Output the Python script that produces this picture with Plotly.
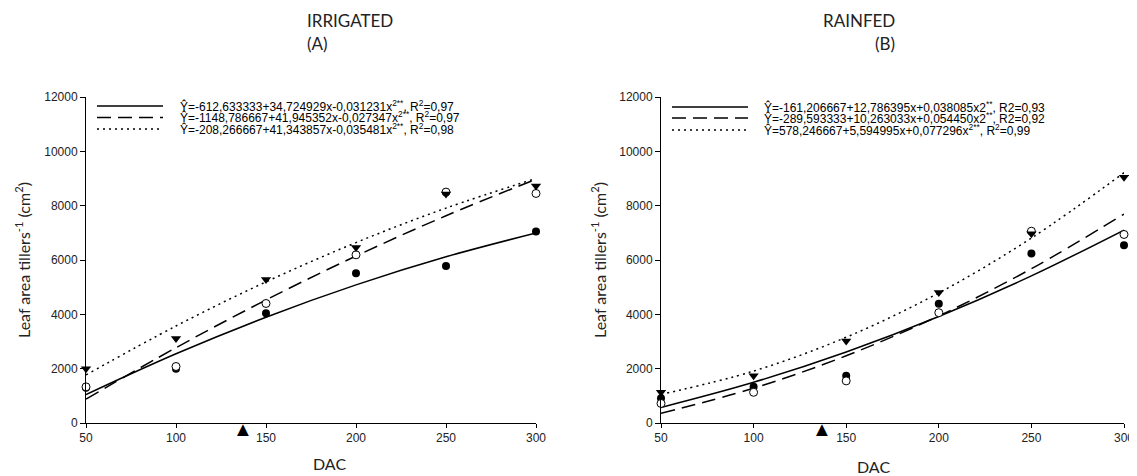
import plotly.graph_objects as go

# ---------------- data ----------------
dac = [50, 100, 150, 200, 250, 300]

# Irrigated (A) observed points
irr_filled = [1300, 2000, 4040, 5510, 5780, 7050]
irr_open = [1330, 2080, 4400, 6190, 8500, 8450]
irr_tri = [2000, 3110, 5280, 6460, 8430, 8720]
# Irrigated fitted curves
irr_fit_solid = [1045, 2547, 3893, 5083, 6117, 6994]
irr_fit_dash = [880, 2772, 4528, 6146, 7628, 8974]
irr_fit_dot = [1770, 3571, 5195, 6641, 7910, 9001]

# Rainfed (B) observed points
rf_filled = [910, 1330, 1740, 4390, 6240, 6540]
rf_open = [720, 1130, 1550, 4060, 7060, 6940]
rf_tri = [1130, 1740, 3020, 4800, 6970, 9050]
# Rainfed fitted curves
rf_fit_solid = [573, 1498, 2614, 3919, 5416, 7102]
rf_fit_dash = [360, 1281, 2475, 3941, 5679, 7690]
rf_fit_dot = [1051, 1911, 3157, 4789, 6808, 9213]

event_dac = [137]

legend_a = [
    "Ŷ=-612,633333+34,724929x-0,031231x<sup>2**</sup>, R<sup>2</sup>=0,97",
    "Ŷ=-1148,786667+41,945352x-0,027347x<sup>2**</sup>, R<sup>2</sup>=0,97",
    "Ŷ=-208,266667+41,343857x-0,035481x<sup>2**</sup>, R<sup>2</sup>=0,98",
]
legend_b = [
    "Ŷ=-161,206667+12,786395x+0,038085x2<sup>**</sup>, R2=0,93",
    "Ŷ=-289,593333+10,263033x+0,054450x2<sup>**</sup>, R2=0,92",
    "Ŷ=578,246667+5,594995x+0,077296x<sup>2**</sup>, R<sup>2</sup>=0,99",
]
titles = [("IRRIGATED", "(A)"), ("RAINFED", "(B)")]
y_title = "Leaf area tillers<sup>-1</sup> (cm<sup>2</sup>)"
x_title = "DAC"
y_ticks = [0, 2000, 4000, 6000, 8000, 10000, 12000]
x_ticks = [50, 100, 150, 200, 250, 300]

# ---------------- figure ----------------
# The page body has an 8px margin: shift everything by it so the window matches.
OFF = 8
W, H = 1137, 476


def px(xp):
    return (xp - OFF) / W


def py(yp):
    return 1 - (yp - OFF) / H


fig = go.Figure()

dashes = ["solid", "14px,7px", "2px,4px"]


def add_panel(xa, ya, fits, filled, opened, tri):
    for fit, d in zip(fits, dashes):
        fig.add_trace(go.Scatter(
            x=dac, y=fit, mode="lines", xaxis=xa, yaxis=ya,
            line=dict(color="black", width=1.5, dash=d, shape="spline"),
            showlegend=False, cliponaxis=False, hoverinfo="skip"))
    fig.add_trace(go.Scatter(
        x=dac, y=filled, mode="markers", xaxis=xa, yaxis=ya,
        marker=dict(symbol="circle", size=8, color="black"),
        showlegend=False, cliponaxis=False))
    fig.add_trace(go.Scatter(
        x=dac, y=opened, mode="markers", xaxis=xa, yaxis=ya,
        marker=dict(symbol="circle", size=8, color="white",
                    line=dict(color="black", width=1)),
        showlegend=False, cliponaxis=False))
    fig.add_trace(go.Scatter(
        x=dac, y=tri, mode="markers", xaxis=xa, yaxis=ya,
        marker=dict(symbol="triangle-down", size=9, color="black"),
        showlegend=False, cliponaxis=False))


add_panel("x", "y", [irr_fit_solid, irr_fit_dash, irr_fit_dot],
          irr_filled, irr_open, irr_tri)
add_panel("x2", "y2", [rf_fit_solid, rf_fit_dash, rf_fit_dot],
          rf_filled, rf_open, rf_tri)

tick_font = dict(family="Liberation Sans, Arial", size=12, color="#222")
ydom = [py(423), py(97)]
common_x = dict(range=[50, 300], tickvals=x_ticks, showline=True, linecolor="black",
                linewidth=1, ticks="outside", ticklen=4, tickcolor="black",
                showgrid=False, zeroline=False, tickfont=tick_font, automargin=False)
common_y = dict(range=[0, 12000], tickvals=y_ticks, tickformat="d", showline=True,
                linecolor="black", linewidth=1, ticks="outside", ticklen=5,
                tickcolor="black", showgrid=False, zeroline=False, tickfont=tick_font,
                domain=ydom, automargin=False)

fig.update_layout(
    template="none",
    width=W, height=H, margin=dict(l=0, r=0, t=0, b=0, pad=0, autoexpand=False),
    paper_bgcolor="white", plot_bgcolor="white", showlegend=False,
    xaxis=dict(domain=[px(86), px(536)], anchor="y", **common_x),
    yaxis=dict(anchor="x", **common_y),
    xaxis2=dict(domain=[px(661), px(1124)], anchor="y2", **common_x),
    yaxis2=dict(anchor="x2", **common_y),
)

title_font = dict(family="Lato, Open Sans, sans-serif", size=17, color="#222")
label_font = dict(family="Lato, Open Sans, sans-serif", size=16, color="#222")
leg_font = dict(family="Liberation Sans, Arial", size=12, color="black")

ann = []
shapes = []
panels = [
    dict(cx=305, title=titles[0], leg=legend_a, lx0=97, lx1=163, tx=178,
         ly=[106, 117.5, 129], xt_y=463, yt_x=22, xref="x", yref="y"),
    dict(cx=897, title=titles[1], leg=legend_b, lx0=672, lx1=748, tx=762,
         ly=[107, 118, 130], xt_y=466, yt_x=598, xref="x2", yref="y2"),
]
for i, p in enumerate(panels):
    ann.append(dict(x=px(p["cx"]), y=py(20), xref="paper", yref="paper",
                    text=p["title"][0], showarrow=False, font=title_font,
                    yanchor="middle"))
    ann.append(dict(x=px(p["cx"]), y=py(44), xref="paper", yref="paper",
                    text=p["title"][1], showarrow=False, font=title_font,
                    yanchor="middle"))
    xd = fig.layout.xaxis.domain if i == 0 else fig.layout.xaxis2.domain
    ann.append(dict(x=(xd[0] + xd[1]) / 2, y=py(p["xt_y"]), xref="paper",
                    yref="paper", text=x_title, showarrow=False, font=label_font,
                    yanchor="middle"))
    ann.append(dict(x=px(p["yt_x"]), y=(ydom[0] + ydom[1]) / 2, xref="paper",
                    yref="paper", text=y_title, showarrow=False, textangle=-90,
                    font=label_font, xanchor="center", yanchor="middle"))
    for txt, yy, d in zip(p["leg"], p["ly"], dashes):
        shapes.append(dict(type="line", xref="paper", yref="paper",
                           x0=px(p["lx0"]), x1=px(p["lx1"]),
                           y0=py(yy), y1=py(yy),
                           line=dict(color="black", width=1.5, dash=d)))
        ann.append(dict(x=px(p["tx"]), y=py(yy), xref="paper", yref="paper",
                        text=txt, showarrow=False, xanchor="left", yanchor="middle",
                        font=leg_font))
    ann.append(dict(x=event_dac[0], y=0, xref=p["xref"], yref=p["yref"],
                    text="▲", showarrow=False, yanchor="top", yshift=10,
                    font=dict(size=20, color="black")))

fig.update_layout(annotations=ann, shapes=shapes)
fig.write_html("out.html")
